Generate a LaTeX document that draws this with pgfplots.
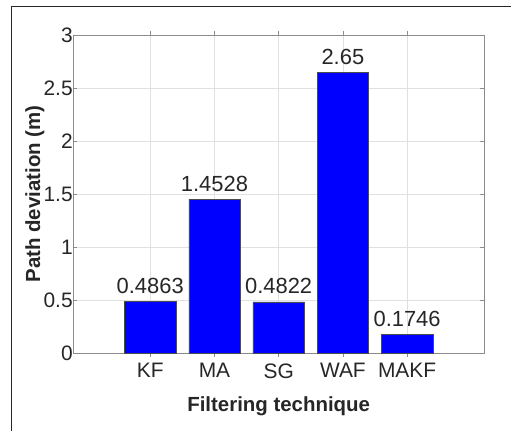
\documentclass[border=0pt]{standalone}
\usepackage{pgfplots}
\pgfplotsset{compat=1.18}
\usepackage{fontspec}
\setmainfont{Liberation Sans}
\definecolor{txt}{rgb}{0.15,0.15,0.15}
\definecolor{axc}{rgb}{0.55,0.55,0.55}
\begin{document}
\begin{tikzpicture}[x=1bp,y=1bp]
\useasboundingbox (0,0) rectangle (511,430);
\draw[line width=1bp,black!85] (11,-2) -- (11,423) -- (513,423);
\begin{axis}[
  at={(86bp,77bp)}, anchor=origin,
  scale only axis, width=411bp, height=318bp,
  xmin=-0.2, xmax=6.2, ymin=0, ymax=3,
  xtick={1,2,3,4,5}, xticklabels={KF,MA,SG,WAF,MAKF},
  ytick={0,0.5,1,1.5,2,2.5,3},
  yticklabels={0,0.5,1,1.5,2,2.5,3},
  tick align=inside, major tick length=4bp,
  tick style={axc, line width=0.5bp},
  axis line style={axc, line width=0.7bp},
  grid=major, major grid style={black!12, line width=0.5bp},
  xticklabel style={font=\fontsize{21}{23}\selectfont, text=txt, yshift=-3bp},
  yticklabel style={font=\fontsize{21}{23}\selectfont, text=txt, xshift=3bp},
  xlabel={\textbf{Filtering technique}}, ylabel={\textbf{Path deviation (m)}},
  label style={font=\fontsize{20.5}{23}\selectfont, text=txt},
  xlabel style={at={(axis description cs:0.5,0)}, anchor=base, yshift=-58bp},
  ylabel style={at={(axis description cs:0,0.5)}, anchor=base, yshift=33bp},
  ybar, bar width=0.8, bar shift=0pt,
  nodes near coords,
  nodes near coords style={font=\fontsize{22}{24}\selectfont, text=txt, anchor=base, yshift=8bp},
  point meta=explicit symbolic,
]
\addplot[fill=blue, draw=black!70, line width=0.5bp] coordinates {
 (1,0.4863) [0.4863]
 (2,1.4528) [1.4528]
 (3,0.4822) [0.4822]
 (4,2.65) [2.65]
 (5,0.1746) [0.1746]
};
\end{axis}
\end{tikzpicture}
\end{document}
